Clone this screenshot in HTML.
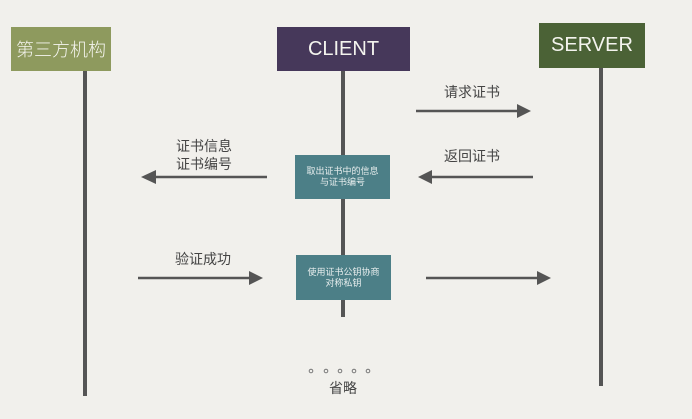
<!DOCTYPE html>
<html><head><meta charset="utf-8"><style>
body{margin:0;width:692px;height:419px;background:#f1f0ec;position:relative;overflow:hidden;font-family:"Liberation Sans","Noto Sans CJK SC",sans-serif;}
.a{position:absolute}
.t{position:absolute;font-size:14px;color:#444;white-space:nowrap}
.hdr{position:absolute;color:#f4f4ee;display:flex;align-items:center;justify-content:center;font-size:20px}
.bx{position:absolute;background:#4c7f87;color:#e8eeee;font-size:9px;line-height:11px;text-align:center;display:flex;align-items:center;justify-content:center}
</style></head><body>
<div class="a" style="left:83px;top:70px;width:4px;height:326px;background:#555"></div>
<div class="a" style="left:341px;top:70px;width:4px;height:247px;background:#555"></div>
<div class="a" style="left:599px;top:66px;width:4px;height:320px;background:#555"></div>
<div class="hdr" style="left:11px;top:27px;width:100px;height:44px;background:#8e9a5e;font-size:18px;font-family:'Noto Sans CJK SC',sans-serif;font-weight:300">第三方机构</div>
<div class="hdr" style="left:277px;top:27px;width:133px;height:44px;background:#46385a">CLIENT</div>
<div class="hdr" style="left:539px;top:23px;width:106px;height:45px;background:#4b6236">SERVER</div>
<svg class="a" style="left:0;top:0" width="692" height="419">
<g stroke="#555" stroke-width="2.5" fill="#555">
<line x1="416" y1="111" x2="518" y2="111"/><polygon points="517,104 531,111 517,118" stroke="none"/>
<line x1="430" y1="177" x2="533" y2="177"/><polygon points="432,170 418,177 432,184" stroke="none"/>
<line x1="154" y1="177" x2="267" y2="177"/><polygon points="156,170 141,177 156,184" stroke="none"/>
<line x1="138" y1="278" x2="250" y2="278"/><polygon points="249,271 263,278 249,285" stroke="none"/>
<line x1="426" y1="278" x2="538" y2="278"/><polygon points="537,271 551,278 537,285" stroke="none"/>
</g>
<g fill="none" stroke="#777" stroke-width="1">
<circle cx="311" cy="371" r="1.8"/><circle cx="326" cy="371" r="1.8"/><circle cx="340" cy="371" r="1.8"/><circle cx="354" cy="371" r="1.8"/><circle cx="368" cy="371" r="1.8"/>
</g>
</svg>
<div class="bx" style="left:295px;top:155px;width:95px;height:44px">取出证书中的信息<br>与证书编号</div>
<div class="bx" style="left:296px;top:255px;width:95px;height:45px">使用证书公钥协商<br>对称私钥</div>
<div class="t" style="left:444px;top:82px">请求证书</div>
<div class="t" style="left:444px;top:146px">返回证书</div>
<div class="t" style="left:176px;top:137px;line-height:18px">证书信息<br>证书编号</div>
<div class="t" style="left:175px;top:249px">验证成功</div>
<div class="t" style="left:329px;top:378px">省略</div>
</body></html>
